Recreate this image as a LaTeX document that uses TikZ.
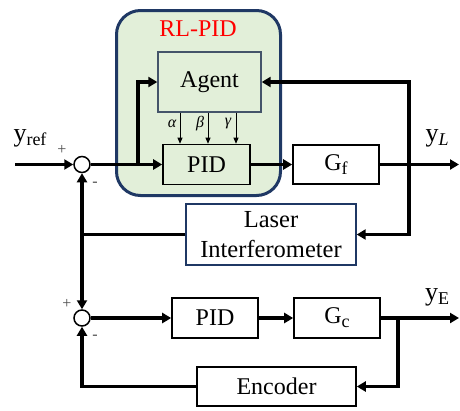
\documentclass[tikz,border=0pt]{standalone}
\usepackage{fontspec}
\setmainfont{Liberation Serif}
\usetikzlibrary{arrows.meta,calc}
\definecolor{rlfill}{HTML}{E2EFD9}
\definecolor{navy}{HTML}{1F3864}
\definecolor{slate}{HTML}{44546A}
\tikzset{
  blk/.style={draw=black, line width=1.6pt, inner sep=0pt, font=\fontsize{24}{28}\selectfont},
  sumnode/.style={circle, draw=black, fill=white, line width=1.5pt, minimum size=16pt, inner sep=0pt},
  sig/.style={line width=3.6pt, -{Triangle[length=9pt,width=10pt]}},
  wire/.style={line width=3.6pt},
  parm/.style={line width=0.8pt, -{Triangle[length=6pt,width=5pt]}},
  sign/.style={font=\fontsize{16}{16}\selectfont, text=black!70, inner sep=0pt},
  lbl/.style={font=\fontsize{26}{30}\selectfont, inner sep=0pt},
  greek/.style={font=\fontsize{16}{18}\selectfont\itshape, inner sep=0pt},
}
\newcommand{\sbs}[1]{\raisebox{-0.35ex}{\fontsize{18}{18}\selectfont #1}}
\begin{document}
\begin{tikzpicture}[x=1pt,y=-1pt]
\useasboundingbox (0,0) rectangle (460,410);

% RL-PID container
\node[draw=navy, line width=3pt, fill=rlfill, rounded corners=24pt,
      minimum width=164pt, minimum height=185pt] (rl) at (198.5,103) {};
\node[font=\fontsize{24}{28}\selectfont, inner sep=0pt, text=red] (rltitle) at (198,29) {RL-PID};

% blocks
\node[blk, draw=slate, line width=1.4pt, minimum width=103pt, minimum height=60pt] (agent) at (209.5,82) {Agent};
\node[blk, minimum width=87pt, minimum height=40pt] (pid1) at (206.5,164.5) {PID};
\node[blk, fill=white, minimum width=86pt, minimum height=39pt] (gf) at (336,164.5) {G\sbs{f}};
\node[blk, draw=navy, line width=1.4pt, fill=white, minimum width=170pt, minimum height=61pt, align=center,
      font=\fontsize{24.5}{30}\selectfont] (laser) at (271,234.5) {Laser\\Interferometer};
\node[blk, fill=white, minimum width=86pt, minimum height=40pt] (pid2) at (215,318) {PID};
\node[blk, fill=white, minimum width=86pt, minimum height=40pt] (gc) at (337,318) {G\sbs{c}};
\node[blk, fill=white, minimum width=159pt, minimum height=39pt] (enc) at (276.5,386.5) {Encoder};

% summing junctions
\node[sumnode] (s1) at (82,164.5) {};
\node[sumnode] (s2) at (82,318) {};

% signal labels
\node[lbl] (yref) at (30,138) {y\sbs{ref}};
\node[lbl] (yl) at (437,138) {y\sbs{\itshape L}};
\node[lbl] (ye) at (437,297) {y\sbs{E}};
\node[sign] (p1) at (62,150) {+};
\node[sign] (m1) at (95,184) {-};
\node[sign] (p2) at (67,304) {+};
\node[sign] (m2) at (95,337) {-};

% helper points
\coordinate (in) at (15,164.5);
\coordinate (b1) at (138,164.5);
\coordinate (b2) at (409,164.5);
\coordinate (outl) at (459,164.5);
\coordinate (j1) at (82,234.5);
\coordinate (b3) at (398,318);
\coordinate (oute) at (459,318);
\coordinate (ta) at (180,0);
\coordinate (tb) at (208,0);
\coordinate (tc) at (236,0);

% upper loop
\draw[sig] (in) -- (s1.west);
\draw[sig] (s1.east) -- (pid1.west);
\draw[sig] (b1) |- (agent.west);
\draw[sig] (pid1.east) -- (gf.west);
\draw[sig] (gf.east) -- (outl);
\draw[sig] (b2) |- (agent.east);
\draw[sig] (b2) |- (laser.east);
\draw[wire] (laser.west) -- (j1);
\draw[sig] (j1) -- (s1.south);
\draw[sig] (j1) -- (s2.north);

% gain tuning signals
\draw[parm] (agent.south -| ta) -- (pid1.north -| ta);
\draw[parm] (agent.south -| tb) -- (pid1.north -| tb);
\draw[parm] (agent.south -| tc) -- (pid1.north -| tc);
\node[greek] (ga) at (172,124) {α};
\node[greek] (gb) at (200,124) {β};
\node[greek] (gg) at (228,124) {γ};

% lower loop
\draw[sig] (s2.east) -- (pid2.west);
\draw[sig] (pid2.east) -- (gc.west);
\draw[sig] (gc.east) -- (oute);
\draw[sig] (b3) |- (enc.east);
\draw[sig] (enc.west) -| (s2.south);
\end{tikzpicture}
\end{document}
